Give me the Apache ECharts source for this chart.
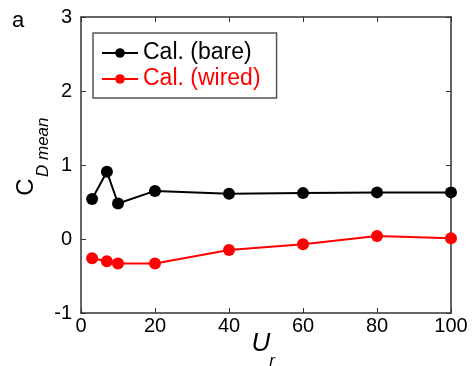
<!DOCTYPE html>
<html><head><meta charset="utf-8">
<script src="https://cdn.jsdelivr.net/npm/echarts@6/dist/echarts.min.js"></script>
<style>html,body{margin:0;padding:0;background:#fff}#c{width:472px;height:366px}</style>
</head><body><div id="c"></div>
<script>
var ur = [3, 7, 10, 20, 40, 60, 80, 100];
var bare = [0.54, 0.91, 0.48, 0.65, 0.61, 0.62, 0.63, 0.63];
var wired = [-0.26, -0.30, -0.33, -0.33, -0.15, -0.07, 0.04, 0.01];
var xTicks = [0, 20, 40, 60, 80, 100];
var yTicks = [-1, 0, 1, 2, 3];

function pairs(xs, ys){ return xs.map(function(x,i){return [x, ys[i]];}); }
var font = 'Liberation Sans, Arial, sans-serif';
var axisCol = '#333';
function xAx(pos, show){
  return {type:'value', position:pos, min:xTicks[0], max:xTicks[xTicks.length-1], interval:20,
    axisLine:{show:true, onZero:false, lineStyle:{color:axisCol, width:1.5}},
    axisTick:{show:true, inside:true, length:5, lineStyle:{color:axisCol, width:1}},
    axisLabel:{show:show, color:'#000', fontSize:20, fontFamily:font, margin:3},
    splitLine:{show:false}};
}
function yAx(pos, show){
  return {type:'value', position:pos, min:yTicks[0], max:yTicks[yTicks.length-1], interval:1,
    axisLine:{show:true, onZero:false, lineStyle:{color:axisCol, width:1.5}},
    axisTick:{show:true, inside:true, length:5, lineStyle:{color:axisCol, width:1}},
    axisLabel:{show:show, color:'#000', fontSize:20, fontFamily:font, margin:9},
    splitLine:{show:false}};
}
var chart = echarts.init(document.getElementById('c'));
chart.setOption({
  animation:false,
  grid:{left:81, right:21, top:17, bottom:53},
  xAxis:[xAx('bottom', true), xAx('top', false)],
  yAxis:[yAx('left', true), yAx('right', false)],
  legend:{
    left:93, top:33, orient:'vertical', itemWidth:36, itemHeight:12, itemGap:2,
    padding:[8, 16, 7, 8], borderColor:'#555', borderWidth:1.5, backgroundColor:'#fff',
    textStyle:{fontSize:23, lineHeight:24, fontFamily:font},
    data:[{name:'Cal. (bare)', textStyle:{color:'#000'}},{name:'Cal. (wired)', textStyle:{color:'#ff0000'}}]
  },
  series:[
    {name:'Cal. (bare)', type:'line', data:pairs(ur, bare), symbol:'circle', symbolSize:12,
     itemStyle:{color:'#000'}, lineStyle:{color:'#000', width:2}},
    {name:'Cal. (wired)', type:'line', data:pairs(ur, wired), symbol:'circle', symbolSize:12,
     itemStyle:{color:'#ff0000'}, lineStyle:{color:'#ff0000', width:2}}
  ],
  graphic:[
    {type:'text', left:12, top:10, style:{text:'a', font:'22px '+font, fill:'#000'}},
    {type:'text', x:26, y:187, rotation:Math.PI/2,
     style:{text:'C', font:'24px '+font, fill:'#000', align:'center', verticalAlign:'middle'}},
    {type:'text', x:43, y:177, rotation:Math.PI/2,
     style:{text:'D mean', font:'italic 17px '+font, fill:'#000', align:'left', verticalAlign:'middle'}},
    {type:'text', x:261, y:344, style:{text:'U', font:'italic 26px '+font, fill:'#000', align:'center', verticalAlign:'middle'}},
    {type:'text', x:272, y:361, style:{text:'r', font:'italic 17px '+font, fill:'#000', align:'center', verticalAlign:'middle'}}
  ]
});
</script></body></html>
